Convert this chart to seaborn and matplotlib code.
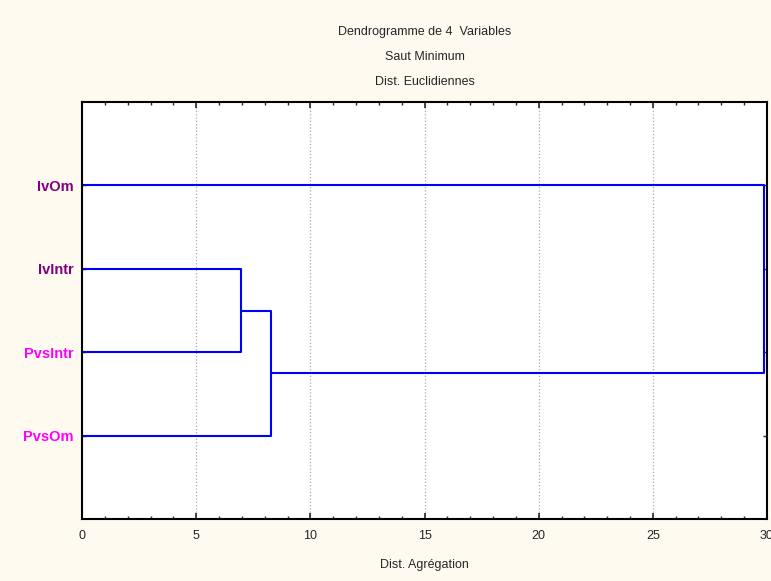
import pandas as pd
import numpy as np
import matplotlib.pyplot as plt
import seaborn as sns
from matplotlib.ticker import MultipleLocator

# Leaves, top to bottom
LEAVES = ['IvOm', 'IvIntr', 'PvsIntr', 'PvsOm']
LEAF_COLORS = ['#800080', '#800080', '#FF00FF', '#FF00FF']
# Merge steps: (left member, right member, distance); members are leaf names or step index
MERGES = [('IvIntr', 'PvsIntr', 6.95),
          (0, 'PvsOm', 8.27),
          ('IvOm', 1, 29.85)]

BG = '#FEFAF0'


def build_segments():
    pos = {name: (i + 1, 0.0) for i, name in enumerate(LEAVES)}
    rows = []
    for k, (a, b, d) in enumerate(MERGES):
        ya, xa = pos[a]
        yb, xb = pos[b]
        pts = [(xa, ya), (d, ya), (d, yb), (xb, yb)]
        for x, y in pts:
            rows.append({'x': x, 'y': y, 'link': k})
        pos[k] = ((ya + yb) / 2, d)
    return pd.DataFrame(rows)


def main():
    sns.set_style('white')
    plt.rcParams['font.family'] = ['Liberation Sans', 'DejaVu Sans']

    df = build_segments()

    fig = plt.figure(figsize=(7.71, 5.81), dpi=100, facecolor=BG)
    ax = fig.add_axes([0.1064, 0.1067, 0.8884, 0.7177])
    ax.set_facecolor('white')

    sns.lineplot(data=df, x='x', y='y', units='link', estimator=None, sort=False,
                 color='#0000FF', linewidth=1.5, ax=ax, legend=False)

    ax.set_xlim(0, 30)
    ax.set_ylim(5, 0)
    ax.xaxis.set_major_locator(MultipleLocator(5))
    ax.xaxis.set_minor_locator(MultipleLocator(1))
    ax.set_yticks(range(1, len(LEAVES) + 1))
    ax.set_yticklabels(LEAVES, fontweight='bold', fontsize=10.5)
    for lbl, c in zip(ax.get_yticklabels(), LEAF_COLORS):
        lbl.set_color(c)

    ax.grid(axis='x', which='major', linestyle=':', color='#AAAAAA', linewidth=0.9)
    for s in ax.spines.values():
        s.set_visible(True)
        s.set_linewidth(1.5)
        s.set_color('black')
    ax.tick_params(axis='x', which='major', direction='in', length=4, width=1.2,
                   top=True, bottom=True, labelsize=9, pad=8)
    ax.tick_params(axis='x', which='minor', direction='in', length=2.5, width=1,
                   top=True, bottom=True)
    ax.tick_params(axis='y', which='major', direction='in', length=3, width=1,
                   left=True, right=True, pad=6)

    ax.set_xlabel('Dist. Agrégation', fontsize=9, labelpad=12)
    ax.set_ylabel('')
    ax.set_title('Dendrogramme de 4  Variables\nSaut Minimum\nDist. Euclidiennes',
                 fontsize=9, linespacing=2.45, pad=12)

    fig.savefig('out.png', dpi=100, facecolor=BG)


if __name__ == '__main__':
    main()
